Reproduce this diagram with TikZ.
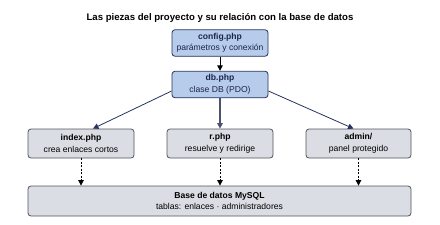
\documentclass[tikz,border=0pt]{standalone}
\usepackage{fontspec}
\setmainfont{Liberation Sans}
\usetikzlibrary{arrows.meta}
\definecolor{pzBlueFill}{HTML}{B7CBEA}
\definecolor{pzBlueEdge}{HTML}{26335E}
\definecolor{pzBlueText}{HTML}{1B2550}
\definecolor{pzGrayFill}{HTML}{DADDE3}
\definecolor{pzGrayEdge}{HTML}{50545C}
\definecolor{pzMidLine}{HTML}{4B5170}
\tikzset{
    pzblue/.style={draw=pzBlueEdge, line width=0.8pt, rounded corners=3pt, fill=pzBlueFill, text=pzBlueText, minimum width=96pt, minimum height=26.5pt, align=center, font=\fontsize{8.6}{11.5}\selectfont},
    pzgray/.style={draw=pzGrayEdge, line width=0.8pt, rounded corners=3pt, fill=pzGrayFill, text=black, minimum width=106pt, minimum height=29pt, align=center, font=\fontsize{8.6}{11.5}\selectfont},
    pzline/.style={-{Triangle[length=5.5pt, width=5.5pt]}, line width=0.8pt, draw=pzBlueEdge},
    pzdash/.style={-{Triangle[length=5.5pt, width=5.5pt]}, line width=0.8pt, dash pattern=on 2pt off 1.5pt}
}

\begin{document}
\begin{tikzpicture}[x=1pt, y=-1pt]
    \useasboundingbox (0,0) rectangle (440,225);
    \node[font=\fontsize{9.6}{11}\selectfont\bfseries] (title) at (220,18) {Las piezas del proyecto y su relación con la base de datos};
    % capa de configuracion
    \node[pzblue] (config) at (220,43) {\textbf{config.php}\\parámetros y conexión};
    \node[pzblue] (db) at (220,84.5) {\textbf{db.php}\\clase DB (PDO)};
    % paginas
    \node[pzgray] (index) at (81,143.5) {\textbf{index.php}\\crea enlaces cortos};
    \node[pzgray] (rphp) at (220,143.5) {\textbf{r.php}\\resuelve y redirige};
    \node[pzgray, minimum width=105pt] (admin) at (358.5,143.5) {\textbf{admin/}\\panel protegido};
    \node[pzgray, minimum width=383pt, minimum height=30pt] (mysql) at (219.5,201) {\textbf{Base de datos MySQL}\\tablas: enlaces · administradores};
    % conexiones
    \draw[pzline, line width=1pt, draw=black] (config) -- (db);
    \draw[pzline] ([yshift=-6.5pt]db.west) -- ([xshift=12pt]index.north);
    \draw[pzline, line width=1.4pt, draw=pzMidLine] (db.south) -- (rphp.north);
    \draw[pzline] ([yshift=-6.5pt]db.east) -- ([xshift=-5pt]admin.north);
    \foreach \p in {index,rphp,admin}{
        \draw[pzdash] (\p.south) -- (\p.south |- mysql.north);
    }
\end{tikzpicture}
\end{document}
